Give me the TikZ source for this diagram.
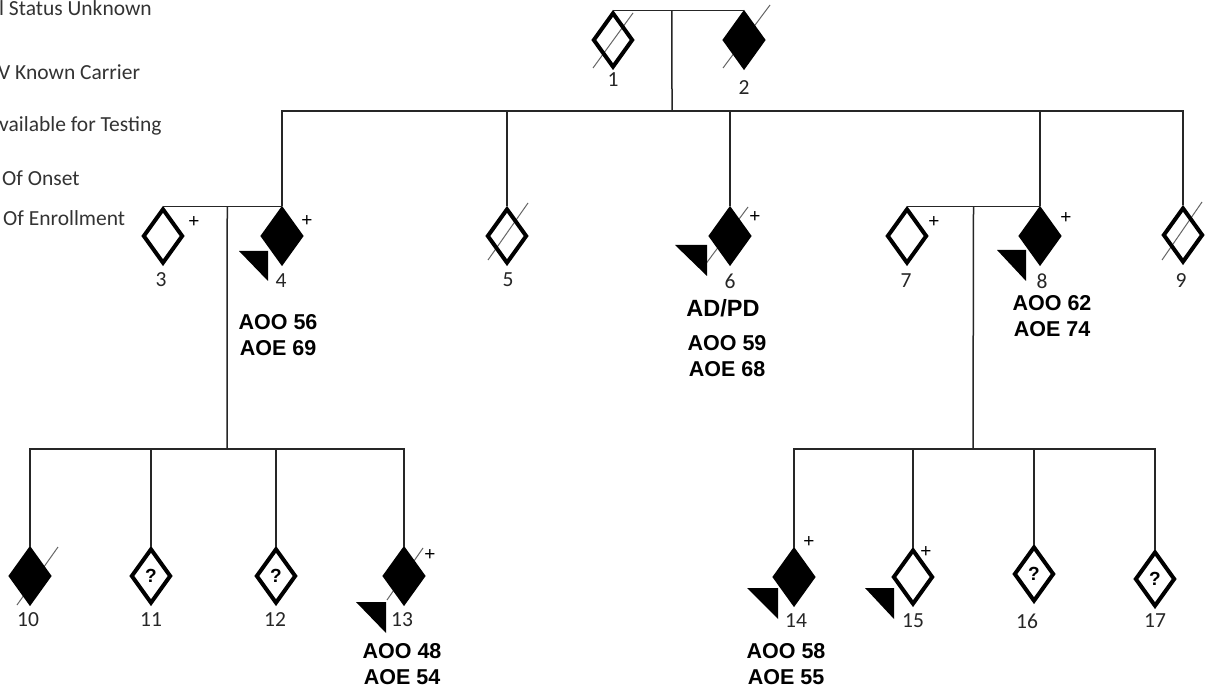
\documentclass[tikz,border=0pt]{standalone}
\usepackage{fontspec}
\setmainfont{Carlito}
\newfontfamily\arialf{Liberation Sans}
\usetikzlibrary{shapes.geometric,calc}
\tikzset{
 ind/.style={diamond, draw=black, line width=4pt, minimum width=40pt, minimum height=55pt, inner sep=0pt, line join=miter},
 aff/.style={ind, fill=black},
 unk/.style={ind, font=\arialf\bfseries\fontsize{19}{19}\selectfont},
 lbl/.style={font=\fontsize{21.5}{21.5}\selectfont, text=black!85, inner sep=0pt},
 plus/.style={font=\arialf\fontsize{19}{19}\selectfont, inner sep=0pt},
 info/.style={font=\arialf\bfseries\fontsize{21.5}{26}\selectfont, align=center, inner sep=0pt},
 link/.style={line width=1.5pt, draw=black!85},
 slash/.style={line width=1pt, draw=black!60},
 tri/.style={fill=black, line join=round},
 leg/.style={font=\fontsize{21.5}{21.5}\selectfont, text=black!80, anchor=west, inner sep=0pt}
}
\begin{document}
\begin{tikzpicture}[x=1pt,y=-1pt]
\useasboundingbox (0,0) rectangle (1206,692);
\fill[white] (0,0) rectangle (1206,692);
% legend remnants
\node[leg] (lg1) at (-1,8) {l Status Unknown};
\node[leg] (lg2) at (-2,72) {V Known Carrier};
\node[leg] (lg3) at (-1,126) {vailable for Testing};
\node[leg] (lg4) at (2,178) {Of Onset};
\node[leg] (lg5) at (3,218) {Of Enrollment};
% slashes (deceased)
\draw[slash] (593,68) -- (633,13);
\draw[slash] (723,68) -- (770,5);
\draw[slash] (488,260) -- (528,203);
\draw[slash] (705,265) -- (748,207);
\draw[slash] (1162,260) -- (1202,202);
\draw[slash] (17,605) -- (58,547);
\draw[slash] (387,600) -- (423,548);
% individuals
\node[ind] (n1) at (613,40) {};
\node[aff] (n2) at (744,40) {};
\node[ind] (n3) at (163,236) {};
\node[aff] (n4) at (282,236) {};
\node[ind] (n5) at (507,236) {};
\node[aff] (n6) at (730,236) {};
\node[ind] (n7) at (907,236) {};
\node[aff] (n8) at (1040,236) {};
\node[ind] (n9) at (1183,235) {};
\node[aff] (n10) at (30,576) {};
\node[unk] (n11) at (151,576) {?};
\node[unk] (n12) at (276,576) {?};
\node[aff] (n13) at (404,576) {};
\node[aff] (n14) at (794,577) {};
\node[ind] (n15) at (913,577) {};
\node[unk] (n16) at (1034,574) {?};
\node[unk] (n17) at (1155,579) {?};
% triangles
\fill[tri] (239,251) -- (268,251) -- (268,281) -- cycle;
\fill[tri] (675,245) -- (707,245) -- (707,276) -- cycle;
\fill[tri] (997,250) -- (1026,250) -- (1026,281) -- cycle;
\fill[tri] (356,602) -- (386,602) -- (386,633) -- cycle;
\fill[tri] (747,588) -- (778,588) -- (778,619) -- cycle;
\fill[tri] (865,588) -- (894,588) -- (894,619) -- cycle;
% connectors
\coordinate (j12) at ($(n1.north)!0.45!(n2.north)$);
\coordinate (b1) at (672,111);
\draw[link] (n1.north) -- (n2.north);
\draw[link] (j12) -- (b1);
\draw[link] (n4.north) |- (b1) -| (n9.north);
\foreach \n in {n5,n6,n8} \draw[link] (\n.north) -- (\n.north |- b1);
\coordinate (j34) at ($(n3.north)!0.54!(n4.north)$);
\coordinate (b2) at (227,449);
\draw[link] (n3.north) -- (n4.north);
\draw[link] (j34) -- (b2);
\draw[link] (n10.north) |- (b2) -| (n13.north);
\foreach \n in {n11,n12} \draw[link] (\n.north) -- (\n.north |- b2);
\coordinate (j78) at ($(n7.north)!0.5!(n8.north)$);
\coordinate (b3) at (973,449);
\draw[link] (n7.north) -- (n8.north);
\draw[link] (j78) -- (b3);
\draw[link] (n14.north) |- (b3) -| (n17.north);
\foreach \n in {n15,n16} \draw[link] (\n.north) -- (\n.north |- b3);
% number labels
\node[lbl] (l1) at (613,80) {1};
\node[lbl] (l2) at (744,88) {2};
\node[lbl] (l3) at (161,280) {3};
\node[lbl] (l4) at (281,281) {4};
\node[lbl] (l5) at (508,280) {5};
\node[lbl] (l6) at (730,281) {6};
\node[lbl] (l7) at (906,281) {7};
\node[lbl] (l8) at (1042,281) {8};
\node[lbl] (l9) at (1181,281) {9};
\node[lbl] (l10) at (28,620) {10};
\node[lbl] (l11) at (151,620) {11};
\node[lbl] (l12) at (275,620) {12};
\node[lbl] (l13) at (402,620) {13};
\node[lbl] (l14) at (796,621) {14};
\node[lbl] (l15) at (913,621) {15};
\node[lbl] (l16) at (1027,621) {16};
\node[lbl] (l17) at (1155,621) {17};
% plus signs
\node[plus] (p3) at (194,222) {+};
\node[plus] (p4) at (307,221) {+};
\node[plus] (p6) at (755,217) {+};
\node[plus] (p7) at (934,222) {+};
\node[plus] (p8) at (1066,218) {+};
\node[plus] (p13) at (430,555) {+};
\node[plus] (p14) at (809,542) {+};
\node[plus] (p15) at (926,552) {+};
% info
\node[info] (i4) at (278,335) {AOO 56\\AOE 69};
\node[info, font=\arialf\bfseries\fontsize{23.5}{23.5}\selectfont] (i6a) at (723,308) {AD/PD};
\node[info] (i6) at (727,356) {AOO 59\\AOE 68};
\node[info] (i8) at (1052,316) {AOO 62\\AOE 74};
\node[info] (i13) at (402,664) {AOO 48\\AOE 54};
\node[info] (i14) at (786,664) {AOO 58\\AOE 55};
\end{tikzpicture}
\end{document}
